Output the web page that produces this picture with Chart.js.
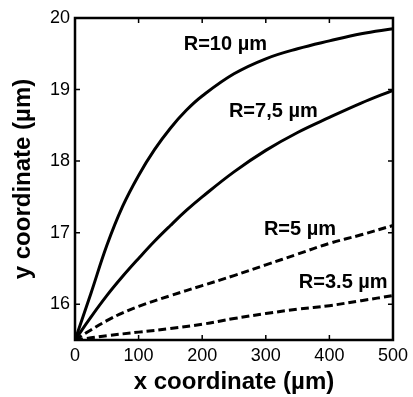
<!DOCTYPE html>
<html>
<head>
<meta charset="utf-8">
<script src="https://cdn.jsdelivr.net/npm/chart.js@4/dist/chart.umd.min.js"></script>
<style>
  html, body { margin: 0; padding: 0; background: #fff; }
  #wrap { width: 413px; height: 397px; }
</style>
</head>
<body>
<div id="wrap"><canvas id="curveChart"></canvas></div>
<script>
const X_TICKS = [0, 100, 200, 300, 400, 500];
const Y_TICKS = [16, 17, 18, 19, 20];

const X_R10 = [0, 25, 50, 75, 100, 125, 150, 175, 200, 250, 300, 350, 400, 450, 500];
const Y_R10 = [15.5, 16.15, 16.82, 17.37, 17.8, 18.16, 18.46, 18.71, 18.91, 19.22, 19.43, 19.57, 19.68, 19.78, 19.85];

const X_R75 = [0, 25, 50, 75, 100, 125, 150, 175, 200, 250, 300, 350, 400, 450, 500];
const Y_R75 = [15.5, 15.82, 16.12, 16.39, 16.64, 16.88, 17.1, 17.31, 17.5, 17.85, 18.15, 18.4, 18.61, 18.81, 18.99];

const X_R5 = [0, 25, 50, 75, 100, 150, 200, 250, 300, 350, 400, 450, 500];
const Y_R5 = [15.5, 15.64, 15.77, 15.88, 15.97, 16.12, 16.26, 16.4, 16.55, 16.7, 16.85, 16.97, 17.1];

const X_R35 = [0, 25, 50, 100, 150, 200, 250, 300, 350, 400, 450, 500];
const Y_R35 = [15.5, 15.53, 15.56, 15.61, 15.66, 15.72, 15.8, 15.87, 15.93, 15.98, 16.05, 16.12];

// curve labels, anchored at their left / middle in data units
const LABELS = ['R=10 \u00b5m', 'R=7,5 \u00b5m', 'R=5 \u00b5m', 'R=3.5 \u00b5m'];
const LABEL_X = [171, 242, 297, 352];
const LABEL_Y = [19.63, 18.7, 17.05, 16.31];

const FONT = '"Liberation Sans", Arial, sans-serif';

function pts(xs, ys) {
    return xs.map((x, i) => ({ x: x, y: ys[i] }));
}

function curve(xs, ys, dashed) {
    return {
        data: pts(xs, ys),
        borderColor: '#000',
        borderWidth: 3,
        borderDash: dashed ? [8, 4] : [],
        pointRadius: 0,
        showLine: true,
        fill: false,
        tension: 0.4
    };
}

const framePlugin = {
    id: 'frame',
    afterDatasetsDraw(chart) {
        const ctx = chart.ctx;
        const a = chart.chartArea;
        const xs = chart.scales.x;
        const ys = chart.scales.y;
        ctx.save();
        ctx.strokeStyle = '#000';
        ctx.lineWidth = 1.5;
        // inward ticks on all four sides
        for (const v of X_TICKS) {
            const px = xs.getPixelForValue(v);
            ctx.beginPath();
            ctx.moveTo(px, a.bottom); ctx.lineTo(px, a.bottom - 5);
            ctx.moveTo(px, a.top); ctx.lineTo(px, a.top + 5);
            ctx.stroke();
        }
        for (const v of Y_TICKS) {
            const py = ys.getPixelForValue(v);
            ctx.beginPath();
            ctx.moveTo(a.left, py); ctx.lineTo(a.left + 5, py);
            ctx.moveTo(a.right, py); ctx.lineTo(a.right - 5, py);
            ctx.stroke();
        }
        ctx.lineWidth = 2.5;
        ctx.strokeRect(a.left, a.top, a.right - a.left, a.bottom - a.top);

        ctx.fillStyle = '#000';
        ctx.font = 'bold 20px ' + FONT;
        ctx.textBaseline = 'middle';
        ctx.textAlign = 'left';
        LABELS.forEach((t, i) => {
            ctx.fillText(t, xs.getPixelForValue(LABEL_X[i]), ys.getPixelForValue(LABEL_Y[i]));
        });
        ctx.restore();
    }
};

const config = {
    type: 'scatter',
    data: {
        datasets: [
            curve(X_R10, Y_R10, false),
            curve(X_R75, Y_R75, false),
            curve(X_R5, Y_R5, true),
            curve(X_R35, Y_R35, true)
        ]
    },
    options: {
        responsive: true,
        maintainAspectRatio: false,
        animation: false,
        layout: { padding: { top: 18, right: 18, left: 0, bottom: 0 } },
        plugins: {
            legend: { display: false },
            tooltip: { enabled: false }
        },
        scales: {
            x: {
                type: 'linear',
                min: 0,
                max: 500,
                afterBuildTicks: (s) => { s.ticks = X_TICKS.map(v => ({ value: v })); },
                afterFit: (s) => { s.height = 57; },
                grid: { display: false, drawTicks: false },
                border: { display: false },
                ticks: { color: '#000', padding: 5, font: { family: FONT, size: 18 } },
                title: {
                    display: true,
                    text: 'x coordinate (\u00b5m)',
                    color: '#000',
                    padding: { top: 0, bottom: 0 },
                    font: { family: FONT, size: 24, weight: 'bold' }
                }
            },
            y: {
                type: 'linear',
                min: 15.5,
                max: 20,
                afterBuildTicks: (s) => { s.ticks = Y_TICKS.map(v => ({ value: v })); },
                afterFit: (s) => { s.width = 75; },
                grid: { display: false, drawTicks: false },
                border: { display: false },
                ticks: { color: '#000', padding: 5, font: { family: FONT, size: 18 } },
                title: {
                    display: true,
                    text: 'y coordinate (\u00b5m)',
                    color: '#000',
                    padding: { top: 9, bottom: 0 },
                    font: { family: FONT, size: 24, weight: 'bold' }
                }
            }
        }
    },
    plugins: [framePlugin]
};

const curveChart = new Chart(document.getElementById('curveChart'), config);
</script>
</body>
</html>
